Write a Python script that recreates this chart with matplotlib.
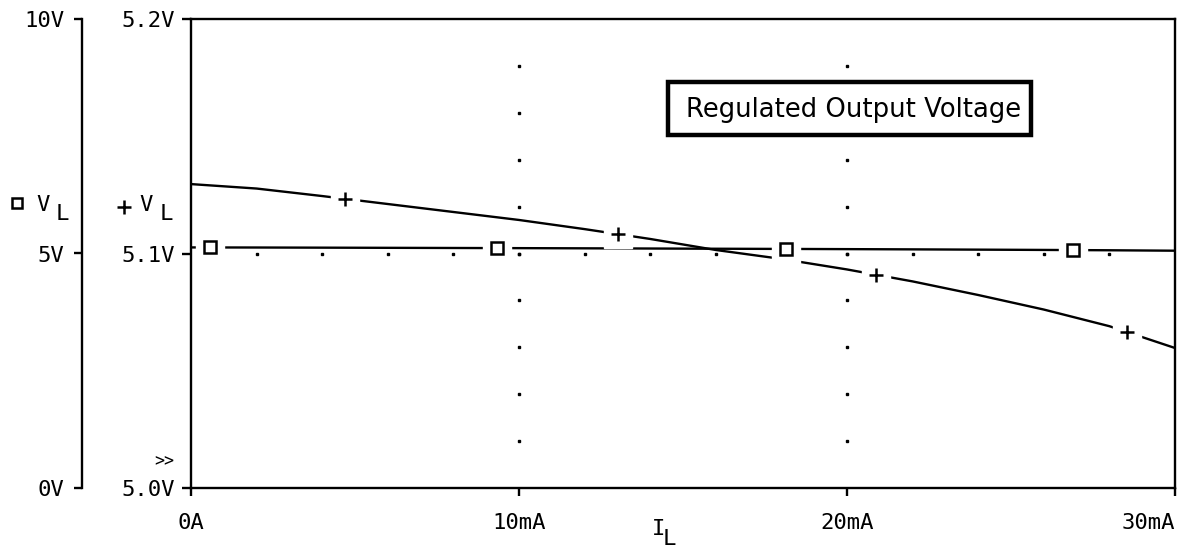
import numpy as np
import matplotlib
matplotlib.use('Agg')
import matplotlib.pyplot as plt
from matplotlib.lines import Line2D
from matplotlib.patches import Rectangle

# ---- data ----
I_mA = [0, 2, 4, 6, 8, 10, 12, 14, 16, 18, 20, 22, 24, 26, 28, 30]
V_L = [5.1296, 5.1277, 5.1245, 5.1211, 5.1177, 5.1143, 5.1104, 5.1062,
       5.1015, 5.0977, 5.0932, 5.0881, 5.0823, 5.0761, 5.0690, 5.0597]
square_marks_mA = [0.58, 9.33, 18.14, 26.89]
plus_marks_mA = [4.70, 13.02, 20.88, 28.54]

x_ticks = [0, 10, 20, 30]
x_ticklabels = ['0A', '10mA', '20mA', '30mA']
inner_ticks = [5.0, 5.1, 5.2]
inner_ticklabels = ['5.0V', '5.1V', '5.2V']
outer_ticks = [0, 5, 10]
outer_ticklabels = ['0V', '5V', '10V']
title = 'Regulated Output Voltage'

# ---- figure ----
W, H = 1189, 552
fig = plt.figure(figsize=(W / 100, H / 100), dpi=100)
fig.patch.set_facecolor('white')


def fx(px):
    return px / W


def fy(py):
    return 1 - py / H


L, R, T, B = 191, 1175, 19, 488
ax = fig.add_axes([fx(L), fy(B), fx(R) - fx(L), fy(T) - fy(B)])
ax2 = ax.twinx()

MONO = 'DejaVu Sans Mono'
LW = 1.7
PX = 0.72  # points per pixel

# inner axis styling
for s in ax.spines.values():
    s.set_linewidth(LW)
ax.set_xlim(0, 30)
ax.set_ylim(5.0, 5.2)
ax.set_xticks(x_ticks)
ax.set_xticklabels(x_ticklabels, fontfamily=MONO, fontsize=16)
ax.get_xticklabels()[-1].set_ha('right')
ax.set_yticks(inner_ticks)
ax.set_yticklabels(inner_ticklabels, fontfamily=MONO, fontsize=16)
ax.tick_params(axis='x', direction='out', length=8 * PX, width=LW, pad=12)
ax.tick_params(axis='y', direction='out', length=9 * PX, width=LW, pad=5,
               left=True, right=False)

# outer axis styling
ax2.set_ylim(0, 10)
ax2.yaxis.tick_left()
for k in ('right', 'top', 'bottom'):
    ax2.spines[k].set_visible(False)
ax2.spines['left'].set_visible(True)
ax2.spines['left'].set_position(('outward', 109 * PX))
ax2.spines['left'].set_linewidth(LW)
ax2.set_yticks(outer_ticks)
ax2.set_yticklabels(outer_ticklabels, fontfamily=MONO, fontsize=16)
ax2.tick_params(axis='y', direction='out', length=8 * PX, width=LW, pad=7,
                left=True, right=False)

# dotted grid
hx = np.arange(x_ticks[0] + 2, x_ticks[-1], 2)
ax.plot(hx, np.full(len(hx), inner_ticks[1]), ls='none', marker='s', ms=1.5,
        color='black', zorder=1)
vy = np.arange(inner_ticks[0] + 0.02, inner_ticks[-1] - 0.001, 0.02)
for gx in x_ticks[1:-1]:
    ax.plot(np.full(len(vy), gx), vy, ls='none', marker='s', ms=1.5,
            color='black', zorder=1)

# curves
ax.plot(I_mA, V_L, color='black', lw=LW, zorder=2)
ax2.plot(I_mA, V_L, color='black', lw=LW, zorder=2)

sq_y = np.interp(square_marks_mA, I_mA, V_L)
pl_y = np.interp(plus_marks_mA, I_mA, V_L)

# white gaps around markers (drawn on top axes so they cut both lines)
ax2.plot(square_marks_mA, sq_y, ls='none', marker='s', ms=20, mfc='white',
         mec='white', zorder=3)
ax2.plot(plus_marks_mA, pl_y, ls='none', marker='s', ms=20, mfc='white',
         mec='white', zorder=3, transform=ax.transData)
# markers
ax2.plot(square_marks_mA, sq_y, ls='none', marker='s', ms=8.5, mfc='white',
         mec='black', mew=1.8, zorder=4)
ax2.plot(plus_marks_mA, pl_y, ls='none', marker='+', ms=10, mec='black',
         mew=1.8, zorder=4, transform=ax.transData)
ax2.set_ylim(0, 10)
ax.set_xlim(0, 30)
ax.set_ylim(5.0, 5.2)

# legend-like axis labels
fig.add_artist(Line2D([fx(17)], [fy(203)], transform=fig.transFigure,
                      marker='s', ms=7.5, mfc='white', mec='black', mew=1.8))
fig.text(fx(36), fy(195), 'V', fontfamily=MONO, fontsize=16, ha='left', va='top')
fig.text(fx(56), fy(204), 'L', fontfamily=MONO, fontsize=16, ha='left', va='top')
fig.add_artist(Line2D([fx(124)], [fy(207)], transform=fig.transFigure,
                      marker='+', ms=10, mec='black', mew=1.8))
fig.text(fx(139), fy(195), 'V', fontfamily=MONO, fontsize=16, ha='left', va='top')
fig.text(fx(160), fy(204), 'L', fontfamily=MONO, fontsize=16, ha='left', va='top')
fig.text(fx(164), fy(461), '>>', fontfamily=MONO, fontsize=12, ha='center',
         va='center')

# x-axis label
fig.text(fx(652), fy(519), 'I', fontfamily=MONO, fontsize=16, ha='left', va='top')
fig.text(fx(663), fy(529), 'L', fontfamily=MONO, fontsize=16, ha='left', va='top')

# title box
fig.add_artist(Rectangle((fx(668), fy(135)), fx(1031) - fx(668),
                         fy(82) - fy(135), transform=fig.transFigure,
                         facecolor='white', edgecolor='black', lw=3.2, zorder=5))
fig.text(fx(854), fy(117), title, fontfamily='DejaVu Sans', fontsize=18.6,
         ha='center', va='baseline', zorder=6)

fig.savefig('out.png', dpi=100)
